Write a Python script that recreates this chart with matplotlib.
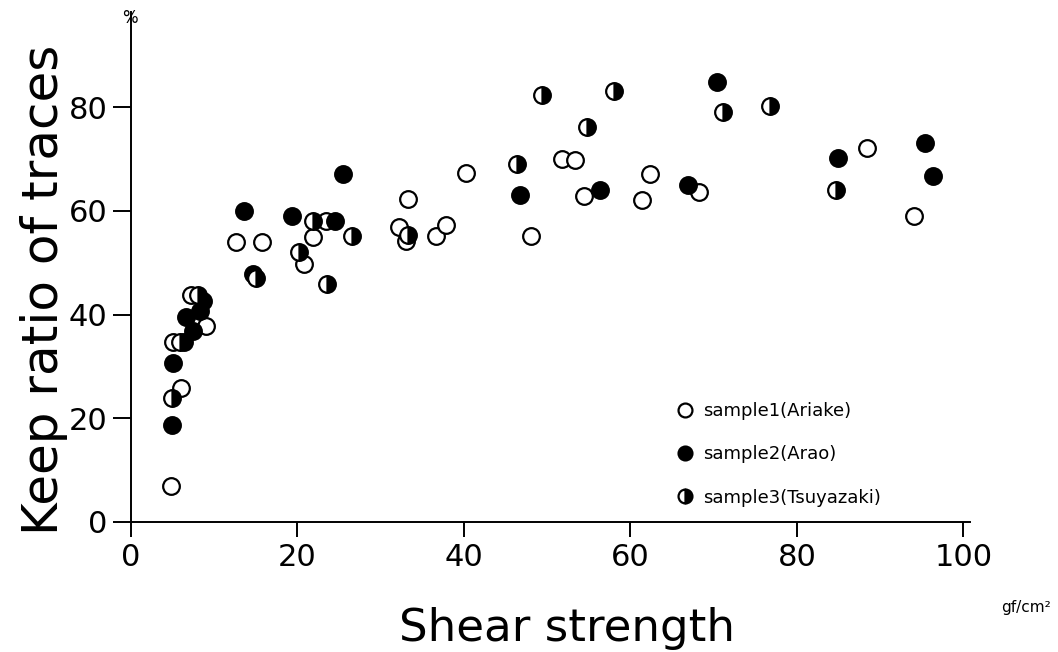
import matplotlib
matplotlib.use('Agg')
import matplotlib.pyplot as plt
from matplotlib.lines import Line2D

plt.rcParams['font.family'] = ['DejaVu Sans']

# sample1 (Ariake) - open circles
ariake_x = [4.8, 6.0, 5.0, 9.0, 7.2, 12.6, 15.7, 21.9, 20.8, 23.4, 33.3,
            32.2, 33.1, 36.7, 37.9, 40.3, 51.8, 53.4, 48.0, 54.4, 62.3,
            61.4, 68.3, 88.4, 94.1]
ariake_y = [6.9, 25.8, 34.7, 37.8, 43.8, 53.9, 53.9, 55.0, 49.8, 58.0, 62.2,
            56.9, 54.1, 55.2, 57.2, 67.2, 69.9, 69.7, 55.1, 62.9, 67.0,
            62.0, 63.6, 72.1, 59.0]

# sample2 (Arao) - filled circles
arao_x = [4.9, 5.0, 6.4, 7.4, 6.6, 8.3, 8.6, 13.6, 19.4, 14.7, 24.5, 25.5,
          46.7, 56.4, 70.4, 66.9, 85.0, 95.4, 96.4]
arao_y = [18.7, 30.7, 34.7, 36.8, 39.6, 40.7, 42.6, 59.9, 59.0, 47.9, 58.0,
          67.1, 63.1, 64.1, 84.8, 64.9, 70.2, 73.0, 66.7]

# sample3 (Tsuyazaki) - half filled circles
tsuyazaki_x = [4.9, 5.9, 8.0, 15.0, 21.9, 26.5, 20.2, 23.5, 33.3, 49.4,
               58.0, 71.1, 54.8, 46.4, 76.8, 84.7]
tsuyazaki_y = [23.9, 34.7, 43.8, 47.0, 58.0, 55.2, 52.1, 45.9, 55.3, 82.3,
               83.0, 79.1, 76.2, 69.1, 80.2, 64.1]

x_ticks = [0, 20, 40, 60, 80, 100]
y_ticks = [0, 20, 40, 60, 80]

MS = 12
MEW = 1.6


def marker_style(kind, size=MS):
    style = dict(linestyle='none', marker='o', markersize=size,
                 markeredgecolor='black', markeredgewidth=MEW)
    if kind == 'open':
        style.update(markerfacecolor='white')
    elif kind == 'filled':
        style.update(markerfacecolor='black')
    else:
        style.update(fillstyle='right', markerfacecolor='black',
                     markerfacecoloralt='white')
    return style


def main():
    fig = plt.figure(figsize=(10.58, 6.52), dpi=100)
    ax = fig.add_axes([0.1238, 0.1994, 0.793, 0.782])

    ax.plot(ariake_x, ariake_y, **marker_style('open'))
    ax.plot(arao_x, arao_y, **marker_style('filled'))
    ax.plot(tsuyazaki_x, tsuyazaki_y, **marker_style('half'))

    ax.set_xlim(0, 100.8)
    ax.set_ylim(0, 98.3)
    ax.spines['top'].set_visible(False)
    ax.spines['right'].set_visible(False)
    for side in ('left', 'bottom'):
        ax.spines[side].set_linewidth(1.4)
    ax.set_xticks(x_ticks)
    ax.set_yticks(y_ticks)
    ax.tick_params(axis='both', direction='out', width=1.4, labelsize=22)
    ax.tick_params(axis='x', length=11, pad=4)
    ax.tick_params(axis='y', length=13, pad=4)

    ax.set_ylabel('Keep ratio of traces', fontsize=36)
    ax.yaxis.set_label_coords(-0.075, 0.455)
    ax.set_xlabel('Shear strength', fontsize=32.5)
    ax.xaxis.set_label_coords(0.52, -0.166)

    fig.text(0.123, 0.972, '%', fontsize=12, ha='center', va='center')
    fig.text(0.993, 0.069, 'gf/cm²', fontsize=11, ha='right', va='center')

    handles = [Line2D([], [], **marker_style('open', 10)),
               Line2D([], [], **marker_style('filled', 10)),
               Line2D([], [], **marker_style('half', 10))]
    labels = ['sample1(Ariake)', 'sample2(Arao)', 'sample3(Tsuyazaki)']
    ax.legend(handles, labels, loc='upper left',
              bbox_to_anchor=(0.63, 0.267), frameon=False, fontsize=13,
              labelspacing=1.4, handlelength=1.0, handletextpad=0.5)

    fig.savefig('out.png', dpi=100)


if __name__ == '__main__':
    main()
